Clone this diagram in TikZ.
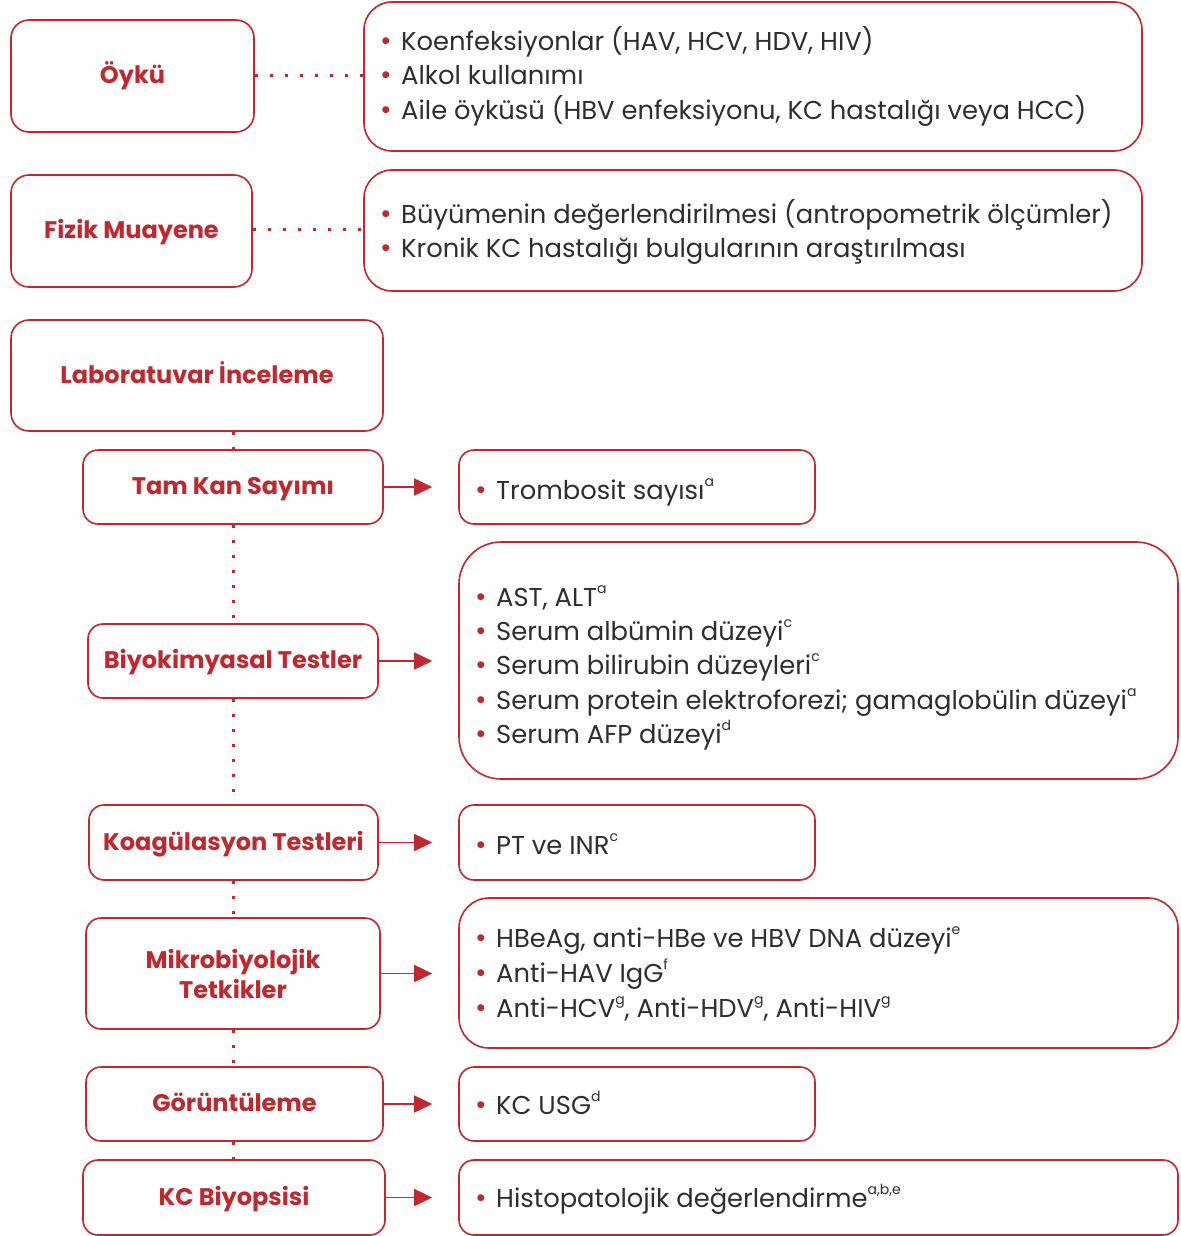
\documentclass[tikz,border=0pt]{standalone}
\usepackage{fontspec}
\setmainfont{Poppins}
\usetikzlibrary{arrows.meta}
\definecolor{cred}{HTML}{C1272D}
\definecolor{ctext}{HTML}{2E2E2E}
\newcommand\bl{\makebox[21pt][l]{\textcolor{cred}{\fontsize{28}{28}\selectfont\textbullet}}}
\newcommand\sps[1]{\raisebox{0.5em}{\fontsize{14}{14}\selectfont #1}}
\begin{document}
\begin{tikzpicture}[x=1pt,y=-1pt,
 box/.style={draw=cred, line width=1.6pt, rounded corners=18pt, fill=white},
 lbl/.style={box, text=cred, font=\fontsize{24}{30}\selectfont\bfseries, align=center, inner sep=0pt, text height=18pt, text depth=3pt},
 det/.style={box, inner sep=0pt},
 txt/.style={anchor=base west, inner sep=0pt, text=ctext, font=\fontsize{25.8}{34}\selectfont},
 dots/.style={cred, line width=3pt, dash pattern=on 3pt off 12pt},
 arr/.style={cred, line width=1.6pt, -{Triangle[length=18pt,width=17pt]}, shorten >=26pt}
]
\useasboundingbox (0,0) rectangle (1180,1236);
\clip (0,0) rectangle (1180,1236);

% top section
\node[lbl, minimum width=243pt, minimum height=112pt] (oyku) at (132.5,76) {Öykü};
\node[det, rounded corners=28pt, minimum width=778pt, minimum height=149pt] (oykuD) at (753,76.5) {};
\node[txt] (o1) at (380,51) {\bl Koenfeksiyonlar (HAV, HCV, HDV, HIV)};
\node[txt] (o2) at (380,85) {\bl Alkol kullanımı};
\node[txt] (o3) at (380,120) {\bl Aile öyküsü (HBV enfeksiyonu, KC hastalığı veya HCC)};
\draw[dots] (oyku.east) -- (oykuD.west |- oyku.east);

\node[lbl, minimum width=241pt, minimum height=112pt] (fizik) at (131.5,231) {Fizik Muayene};
\node[det, rounded corners=28pt, minimum width=778pt, minimum height=121pt] (fizikD) at (753,230.5) {};
\node[txt] (f1) at (380,223) {\bl Büyümenin değerlendirilmesi (antropometrik ölçümler)};
\node[txt] (f2) at (380,257) {\bl Kronik KC hastalığı bulgularının araştırılması};
\draw[dots] (fizik.east |- 0,229) -- (fizikD.west |- 0,229);

% laboratory
\node[lbl, minimum width=372pt, minimum height=111pt] (lab) at (197,375.5) {Laboratuvar İnceleme};

\node[lbl, rounded corners=15pt, minimum width=300pt, minimum height=74pt] (tks) at (233,487) {Tam Kan Sayımı};
\node[lbl, rounded corners=15pt, minimum width=290pt, minimum height=74pt] (bio) at (233,661) {Biyokimyasal Testler};
\node[lbl, rounded corners=15pt, minimum width=289pt, minimum height=75pt] (koa) at (233.5,842.5) {Koagülasyon Testleri};
\node[lbl, rounded corners=15pt, minimum width=294pt, minimum height=111pt, text height=, text depth=] (mik) at (233,973.5) {Mikrobiyolojik\\Tetkikler};
\node[lbl, rounded corners=15pt, minimum width=297pt, minimum height=74pt] (gor) at (234.5,1104) {Görüntüleme};
\node[lbl, rounded corners=15pt, minimum width=302pt, minimum height=75pt] (kcb) at (234,1197.5) {KC Biyopsisi};

\draw[dots] (tks.north |- lab.south) -- (tks.north);
\draw[dots] (tks.south) -- (bio.north);
\draw[dots] (bio.south) -- (bio.south |- koa.north);
\draw[dots] (koa.south -| bio.south) -- (mik.north);
\draw[dots] (mik.south) -- (mik.south |- gor.north);
\draw[dots] (gor.south -| mik.south) -- (mik.south |- kcb.north);

% detail boxes
\node[det, rounded corners=15pt, minimum width=356pt, minimum height=74pt] (tksD) at (637,487) {};
\node[txt] (t1) at (475,499) {\bl Trombosit sayısı\sps{a}};

\node[det, rounded corners=42pt, minimum width=719pt, minimum height=237pt] (bioD) at (818.5,660.5) {};
\node[txt] (b1) at (475,606) {\bl AST, ALT\sps{a}};
\node[txt] (b2) at (475,640) {\bl Serum albümin düzeyi\sps{c}};
\node[txt] (b3) at (475,674) {\bl Serum bilirubin düzeyleri\sps{c}};
\node[txt] (b4) at (475,709) {\bl Serum protein elektroforezi; gamaglobülin düzeyi\sps{a}};
\node[txt] (b5) at (475,743) {\bl Serum AFP düzeyi\sps{d}};

\node[det, rounded corners=15pt, minimum width=356pt, minimum height=75pt] (koaD) at (637,842.5) {};
\node[txt] (k1) at (475,854) {\bl PT ve INR\sps{c}};

\node[det, rounded corners=30pt, minimum width=719pt, minimum height=150pt] (mikD) at (818.5,973) {};
\node[txt] (m1) at (475,947) {\bl HBeAg, anti-HBe ve HBV DNA düzeyi\sps{e}};
\node[txt] (m2) at (475,982) {\bl Anti-HAV IgG\sps{f}};
\node[txt] (m3) at (475,1017) {\bl Anti-HCV\sps{g}, Anti-HDV\sps{g}, Anti-HIV\sps{g}};

\node[det, rounded corners=15pt, minimum width=356pt, minimum height=74pt] (gorD) at (637,1104) {};
\node[txt] (g1) at (475,1114) {\bl KC USG\sps{d}};

\node[det, rounded corners=15pt, minimum width=719pt, minimum height=75pt] (kcbD) at (818.5,1197.5) {};
\node[txt] (h1) at (475,1207) {\bl Histopatolojik değerlendirme\sps{a,b,e}};

% arrows
\draw[arr] (tks.east) -- (tksD.west |- tks.east);
\draw[arr] (bio.east) -- (bioD.west |- bio.east);
\draw[arr] (koa.east) -- (koaD.west |- koa.east);
\draw[arr] (mik.east) -- (mikD.west |- mik.east);
\draw[arr] (gor.east) -- (gorD.west |- gor.east);
\draw[arr] (kcb.east) -- (kcbD.west |- kcb.east);
\end{tikzpicture}
\end{document}
